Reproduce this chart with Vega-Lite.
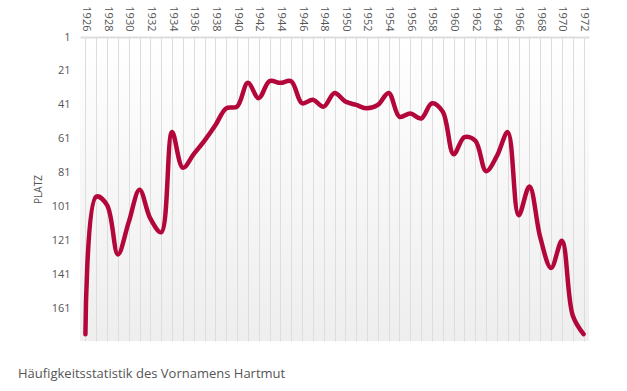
{
  "$schema": "https://vega.github.io/schema/vega-lite/v6.json",
  "width": 509,
  "height": 304,
  "autosize": "none",
  "padding": {"left": 80, "top": 37, "right": 38, "bottom": 50},
  "background": "#ffffff",
  "config": {
    "font": "Open Sans",
    "view": {
      "stroke": null,
      "fill": {
        "gradient": "linear",
        "x1": 0, "y1": 0, "x2": 0, "y2": 1,
        "stops": [
          {"offset": 0, "color": "#ffffff"},
          {"offset": 1, "color": "#eeeeee"}
        ]
      }
    }
  },
  "title": {
    "text": "Häufigkeitsstatistik des Vornamens Hartmut",
    "orient": "bottom",
    "anchor": "start",
    "frame": "group",
    "dx": -62,
    "offset": 27,
    "font": "Open Sans",
    "fontSize": 13,
    "fontWeight": "normal",
    "color": "#555555"
  },
  "data": {
    "values": [
      {"jahr": 1926, "platz": 176},
      {"jahr": 1927, "platz": 95},
      {"jahr": 1928, "platz": 100},
      {"jahr": 1929, "platz": 129},
      {"jahr": 1930, "platz": 110},
      {"jahr": 1931, "platz": 91},
      {"jahr": 1932, "platz": 108},
      {"jahr": 1933, "platz": 116},
      {"jahr": 1934, "platz": 57},
      {"jahr": 1935, "platz": 78},
      {"jahr": 1936, "platz": 70},
      {"jahr": 1937, "platz": 62},
      {"jahr": 1938, "platz": 53},
      {"jahr": 1939, "platz": 43},
      {"jahr": 1940, "platz": 42},
      {"jahr": 1941, "platz": 28},
      {"jahr": 1942, "platz": 37},
      {"jahr": 1943, "platz": 27},
      {"jahr": 1944, "platz": 28},
      {"jahr": 1945, "platz": 27},
      {"jahr": 1946, "platz": 40},
      {"jahr": 1947, "platz": 38},
      {"jahr": 1948, "platz": 42},
      {"jahr": 1949, "platz": 34},
      {"jahr": 1950, "platz": 39},
      {"jahr": 1951, "platz": 41},
      {"jahr": 1952, "platz": 43},
      {"jahr": 1953, "platz": 41},
      {"jahr": 1954, "platz": 34},
      {"jahr": 1955, "platz": 48},
      {"jahr": 1956, "platz": 46},
      {"jahr": 1957, "platz": 49},
      {"jahr": 1958, "platz": 40},
      {"jahr": 1959, "platz": 45},
      {"jahr": 1960, "platz": 70},
      {"jahr": 1961, "platz": 60},
      {"jahr": 1962, "platz": 62},
      {"jahr": 1963, "platz": 80},
      {"jahr": 1964, "platz": 71},
      {"jahr": 1965, "platz": 57},
      {"jahr": 1966, "platz": 106},
      {"jahr": 1967, "platz": 89},
      {"jahr": 1968, "platz": 119},
      {"jahr": 1969, "platz": 137},
      {"jahr": 1970, "platz": 121},
      {"jahr": 1971, "platz": 165},
      {"jahr": 1972, "platz": 176}
    ]
  },
  "mark": {
    "type": "line",
    "interpolate": "catmull-rom",
    "color": "#b3073b",
    "strokeWidth": 4.5,
    "strokeCap": "round",
    "strokeJoin": "round"
  },
  "encoding": {
    "x": {
      "field": "jahr",
      "type": "quantitative",
      "scale": {"domain": [1925.5, 1972.5], "nice": false, "zero": false},
      "axis": {
        "orient": "top",
        "title": null,
        "values": [1926,1927,1928,1929,1930,1931,1932,1933,1934,1935,1936,1937,1938,1939,1940,1941,1942,1943,1944,1945,1946,1947,1948,1949,1950,1951,1952,1953,1954,1955,1956,1957,1958,1959,1960,1961,1962,1963,1964,1965,1966,1967,1968,1969,1970,1971,1972],
        "format": "d",
        "labelExpr": "datum.value % 2 == 0 ? datum.label : ''",
        "labelAngle": 90,
        "labelAlign": "right",
        "labelBaseline": "middle",
        "labelPadding": 6,
        "labelFontSize": 11,
        "labelColor": "#555555",
        "labelFont": "Open Sans",
        "labelOverlap": false,
        "ticks": false,
        "grid": true,
        "gridColor": "#dddddd",
        "gridWidth": 1,
        "domain": true,
        "domainColor": "#dddddd",
        "domainWidth": 2
      }
    },
    "y": {
      "field": "platz",
      "type": "quantitative",
      "scale": {"domain": [1, 180], "reverse": true, "nice": false, "zero": false},
      "axis": {
        "title": "PLATZ",
        "titleFont": "Open Sans",
        "titleFontSize": 10,
        "titleFontWeight": "normal",
        "titleColor": "#555555",
        "titlePadding": 8,
        "values": [1, 21, 41, 61, 81, 101, 121, 141, 161],
        "labelFontSize": 11,
        "labelColor": "#555555",
        "labelFont": "Open Sans",
        "labelPadding": 10,
        "ticks": false,
        "domain": false,
        "grid": false
      }
    }
  }
}
